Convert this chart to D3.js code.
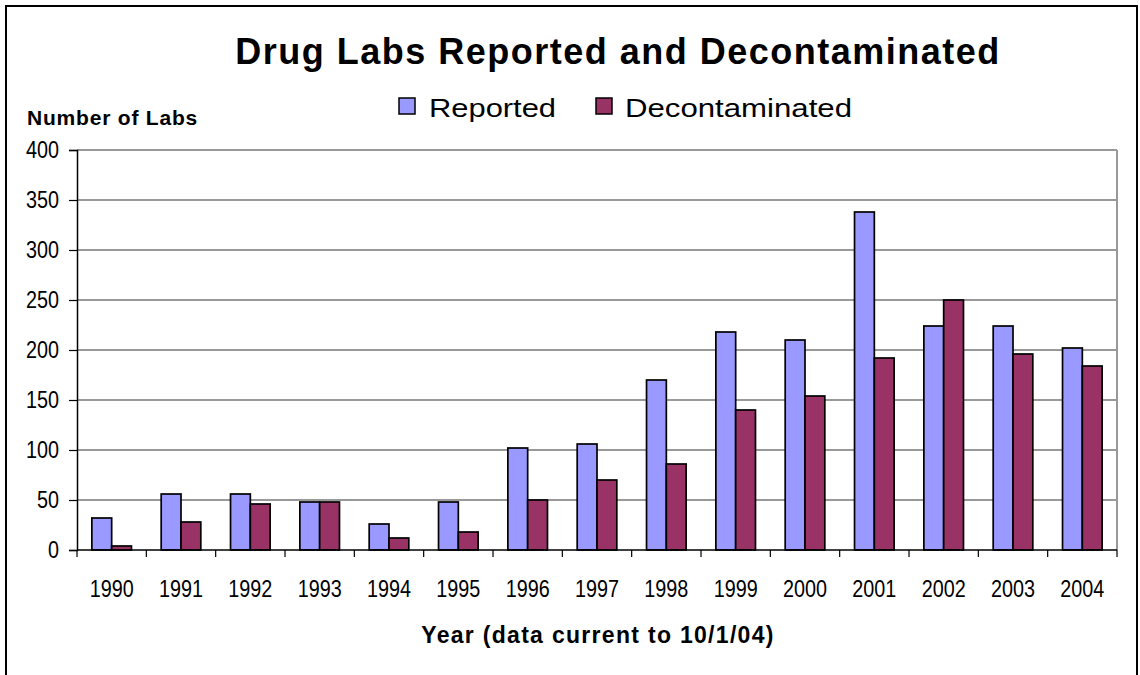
<!DOCTYPE html>
<html>
<head>
<meta charset="utf-8">
<script src="https://cdn.jsdelivr.net/npm/d3@7"></script>
<style>
  html, body { margin: 0; padding: 0; background: #fff; }
  svg { display: block; }
  .tick-label { font-family: "Liberation Sans", Arial, sans-serif; font-size: 24px; fill: #000; }
  .bold { font-family: "Liberation Sans", Arial, sans-serif; font-weight: bold; fill: #000; }
  .legend-label { font-family: "Liberation Sans", Arial, sans-serif; font-size: 26px; fill: #000; }
</style>
</head>
<body>
<svg id="chart" width="1140" height="675"></svg>
<script>
// Drug labs per year
const years = ["1990","1991","1992","1993","1994","1995","1996","1997","1998","1999","2000","2001","2002","2003","2004"];
const reported = [32, 56, 56, 48, 26, 48, 102, 106, 170, 218, 210, 338, 224, 224, 202];
const decontaminated = [4, 28, 46, 48, 12, 18, 50, 70, 86, 140, 154, 192, 250, 196, 184];
const seriesNames = ["Reported", "Decontaminated"];
const seriesColors = ["#9999FF", "#993366"];
const yTicks = [0, 50, 100, 150, 200, 250, 300, 350, 400];

const svg = d3.select("#chart");
const plot = { left: 77, right: 1117, top: 150, bottom: 550 };
const charW = 11; // condensed width per character of the axis labels

// outer frame
svg.append("rect")
  .attr("x", 6).attr("y", 6)
  .attr("width", 1131).attr("height", 690)
  .attr("fill", "none").attr("stroke", "#000").attr("stroke-width", 2);

const x = d3.scaleBand().domain(years).range([plot.left, plot.right]).padding(0);
const y = d3.scaleLinear().domain([0, 400]).range([plot.bottom, plot.top]);
const barW = x.bandwidth() / 3.5;

// gridlines
svg.append("g")
  .selectAll("line")
  .data(yTicks.filter(d => d > 0))
  .join("line")
  .attr("x1", plot.left).attr("x2", plot.right)
  .attr("y1", d => y(d)).attr("y2", d => y(d))
  .attr("stroke", "#999").attr("stroke-width", 2);

// right border of plot area
svg.append("line")
  .attr("x1", plot.right).attr("x2", plot.right)
  .attr("y1", plot.top).attr("y2", plot.bottom)
  .attr("stroke", "#999").attr("stroke-width", 2);

// bars
const data = years.map((yr, i) => ({ yr, vals: [reported[i], decontaminated[i]] }));
const groups = svg.append("g").selectAll("g")
  .data(data).join("g")
  .attr("transform", d => `translate(${x(d.yr) + x.bandwidth() / 2 - barW},0)`);
groups.selectAll("rect")
  .data(d => d.vals.map((v, k) => ({ v, k })))
  .join("rect")
  .attr("x", d => d.k * barW)
  .attr("y", d => y(d.v))
  .attr("width", barW)
  .attr("height", d => y(0) - y(d.v))
  .attr("fill", d => seriesColors[d.k])
  .attr("stroke", "#000").attr("stroke-width", 1.7);

// y axis
const yAxis = d3.axisLeft(y).tickValues(yTicks).tickSize(8).tickPadding(10);
const gy = svg.append("g").attr("transform", `translate(${plot.left},0)`).call(yAxis);
gy.select(".domain").attr("stroke", "#000").attr("stroke-width", 1.5);
gy.selectAll(".tick line").attr("stroke", "#000").attr("stroke-width", 1.2);
gy.selectAll(".tick text")
  .attr("class", "tick-label").attr("font-size", null).attr("font-family", null)
  .attr("textLength", d => String(d).length * charW)
  .attr("lengthAdjust", "spacingAndGlyphs");

// x axis: ticks at category boundaries
const boundaries = years.map(yr => x(yr)).concat([plot.right]);
svg.append("line")
  .attr("x1", plot.left).attr("x2", plot.right)
  .attr("y1", plot.bottom).attr("y2", plot.bottom)
  .attr("stroke", "#000").attr("stroke-width", 1.5);
svg.append("g").selectAll("line")
  .data(boundaries).join("line")
  .attr("x1", d => d).attr("x2", d => d)
  .attr("y1", plot.bottom).attr("y2", plot.bottom + 7)
  .attr("stroke", "#000").attr("stroke-width", 1.2);
svg.append("g").selectAll("text")
  .data(years).join("text")
  .attr("class", "tick-label")
  .attr("x", d => x(d) + x.bandwidth() / 2)
  .attr("y", 597)
  .attr("text-anchor", "middle")
  .attr("textLength", d => d.length * charW)
  .attr("lengthAdjust", "spacingAndGlyphs")
  .text(d => d);

// title
svg.append("text")
  .attr("class", "bold")
  .attr("x", 618).attr("y", 64)
  .attr("text-anchor", "middle")
  .attr("font-size", 36)
  .attr("letter-spacing", 1.5)
  .text("Drug Labs Reported and Decontaminated");

// y axis title
svg.append("text")
  .attr("class", "bold")
  .attr("x", 27).attr("y", 125)
  .attr("font-size", 21)
  .attr("letter-spacing", 0.8)
  .text("Number of Labs");

// x axis title
svg.append("text")
  .attr("class", "bold")
  .attr("x", 598).attr("y", 643)
  .attr("text-anchor", "middle")
  .attr("font-size", 23)
  .attr("letter-spacing", 1.3)
  .text("Year (data current to 10/1/04)");

// legend
const legendItems = [
  { name: seriesNames[0], color: seriesColors[0], sx: 399, tx: 429, tw: 127 },
  { name: seriesNames[1], color: seriesColors[1], sx: 596, tx: 625, tw: 227 }
];
const lg = svg.append("g");
legendItems.forEach(it => {
  lg.append("rect")
    .attr("x", it.sx).attr("y", 98)
    .attr("width", 16).attr("height", 16)
    .attr("fill", it.color).attr("stroke", "#000").attr("stroke-width", 1.5);
  lg.append("text")
    .attr("class", "legend-label")
    .attr("x", it.tx).attr("y", 117)
    .attr("textLength", it.tw)
    .attr("lengthAdjust", "spacingAndGlyphs")
    .text(it.name);
});
</script>
</body>
</html>
